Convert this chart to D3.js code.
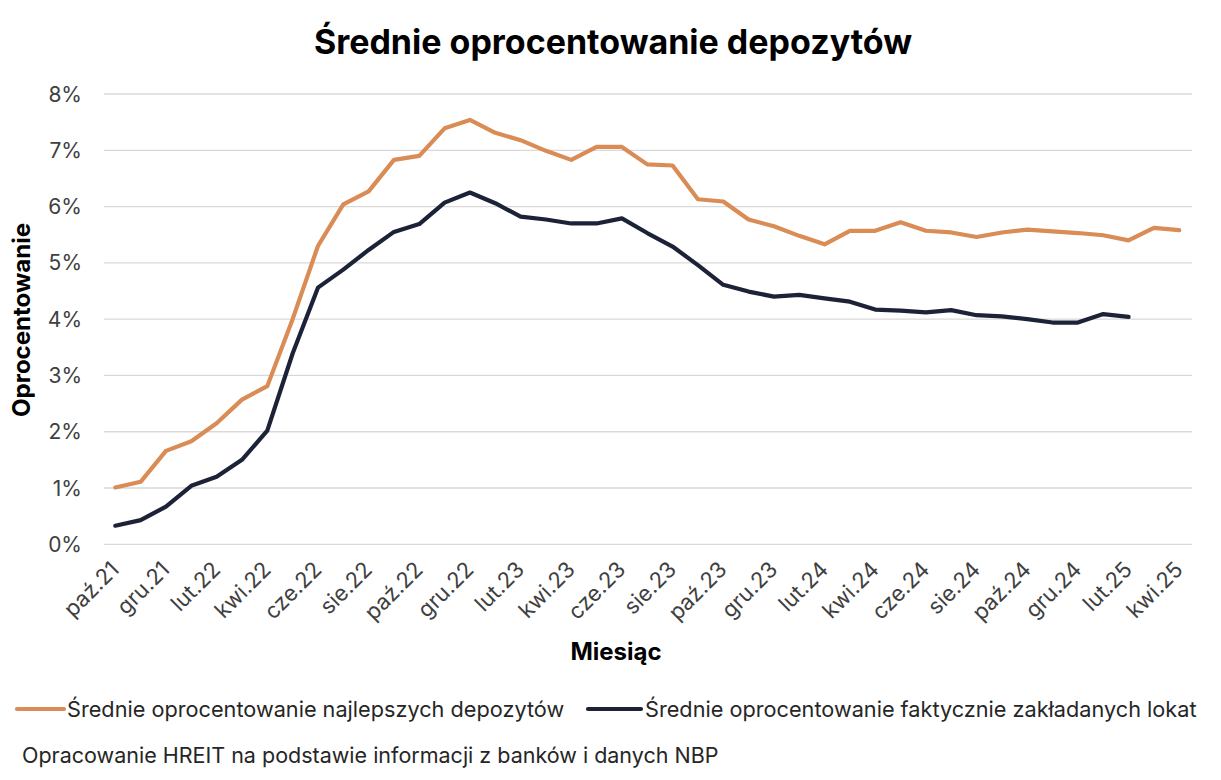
<!DOCTYPE html>
<html>
<head>
<meta charset="utf-8">
<script src="https://cdn.jsdelivr.net/npm/d3@7"></script>
<style>
  body { margin: 0; background: #fff; }
  svg { font-family: Inter, "Liberation Sans", Arial, sans-serif; }
</style>
</head>
<body>
<svg id="chart" width="1221" height="780"></svg>
<script>
var months = ["paź.21","lis.21","gru.21","sty.22","lut.22","mar.22","kwi.22","maj.22","cze.22","lip.22","sie.22","wrz.22",
  "paź.22","lis.22","gru.22","sty.23","lut.23","mar.23","kwi.23","maj.23","cze.23","lip.23","sie.23","wrz.23",
  "paź.23","lis.23","gru.23","sty.24","lut.24","mar.24","kwi.24","maj.24","cze.24","lip.24","sie.24","wrz.24",
  "paź.24","lis.24","gru.24","sty.25","lut.25","mar.25","kwi.25"]

var best = [1.01,1.11,1.66,1.83,2.15,2.57,2.81,4.0,5.30,6.04,6.27,6.83,
  6.90,7.39,7.54,7.31,7.18,6.99,6.83,7.06,7.06,6.75,6.73,6.13,
  6.09,5.77,5.65,5.48,5.33,5.57,5.57,5.72,5.57,5.54,5.46,5.54,
  5.59,5.56,5.53,5.49,5.40,5.62,5.58]

var actual = [0.33,0.43,0.67,1.04,1.20,1.50,2.02,3.39,4.56,4.88,5.23,5.55,
  5.69,6.07,6.25,6.06,5.82,5.77,5.70,5.70,5.79,5.53,5.29,4.96,
  4.61,4.49,4.40,4.43,4.37,4.31,4.17,4.15,4.12,4.16,4.07,4.05,
  4.00,3.94,3.94,4.09,4.04]

var yTicks = [0,1,2,3,4,5,6,7,8]

var seriesNames = ["Średnie oprocentowanie najlepszych depozytów", "Średnie oprocentowanie faktycznie zakładanych lokat"]
var colors = ["#d98c55", "#1c2339"]

var svg = d3.select("#chart")

var x = d3.scalePoint().domain(months).range([115.3, 1179.2])
var y = d3.scaleLinear().domain([0, 8]).range([544.3, 94])

// grid
svg.append("g").selectAll("line").data(yTicks).enter().append("line")
   .attr("x1", 104).attr("x2", 1192)
   .attr("y1", function (d) { return y(d) }).attr("y2", function (d) { return y(d) })
   .attr("stroke", "#d9d9d9").attr("stroke-width", 1.3)

// y labels
svg.append("g").selectAll("text").data(yTicks).enter().append("text")
   .attr("x", 82).attr("y", function (d) { return y(d) })
   .attr("dy", "0.36em").attr("text-anchor", "end")
   .attr("font-size", 21).attr("fill", "#404040")
   .text(function (d) { return d + "%" })

// x labels, every second month
svg.append("g").selectAll("text").data(months.filter(function (d, i) { return i % 2 == 0 })).enter().append("text")
   .attr("transform", function (d) { return "translate(" + (x(d) + 5) + ",571) rotate(-45)" })
   .attr("text-anchor", "end")
   .attr("font-size", 22).attr("fill", "#404040")
   .text(function (d) { return d })

var line = d3.line()
  .x(function (d, i) { return x(months[i]) })
  .y(function (d) { return y(d) })

svg.append("path").datum(best)
   .attr("d", line).attr("fill", "none")
   .attr("stroke", colors[0]).attr("stroke-width", 4.2)
   .attr("stroke-linejoin", "round").attr("stroke-linecap", "round")

svg.append("path").datum(actual)
   .attr("d", line).attr("fill", "none")
   .attr("stroke", colors[1]).attr("stroke-width", 4.2)
   .attr("stroke-linejoin", "round").attr("stroke-linecap", "round")

// titles
svg.append("text").attr("x", 613).attr("y", 54).attr("text-anchor", "middle")
   .attr("font-size", 34).attr("font-weight", "bold").attr("fill", "#000")
   .text("Średnie oprocentowanie depozytów")

svg.append("text").attr("x", 616).attr("y", 660).attr("text-anchor", "middle")
   .attr("font-size", 24).attr("font-weight", "bold").attr("fill", "#000")
   .text("Miesiąc")

svg.append("text").attr("transform", "translate(30,320) rotate(-90)").attr("text-anchor", "middle")
   .attr("font-size", 24).attr("font-weight", "bold").attr("fill", "#000")
   .text("Oprocentowanie")

// legend
var legendX = [[17, 64, 67], [588, 641, 645]]
seriesNames.forEach(function (name, i) {
  svg.append("line").attr("x1", legendX[i][0]).attr("x2", legendX[i][1])
     .attr("y1", 709).attr("y2", 709)
     .attr("stroke", colors[i]).attr("stroke-width", 4.2).attr("stroke-linecap", "round")
  svg.append("text").attr("x", legendX[i][2]).attr("y", 709).attr("dy", "0.36em")
     .attr("font-size", 21.7).attr("fill", "#262626")
     .text(name)
})

svg.append("text").attr("x", 22).attr("y", 763)
   .attr("font-size", 21.5).attr("fill", "#262626")
   .text("Opracowanie HREIT na podstawie informacji z banków i danych NBP")
</script>
</body>
</html>
